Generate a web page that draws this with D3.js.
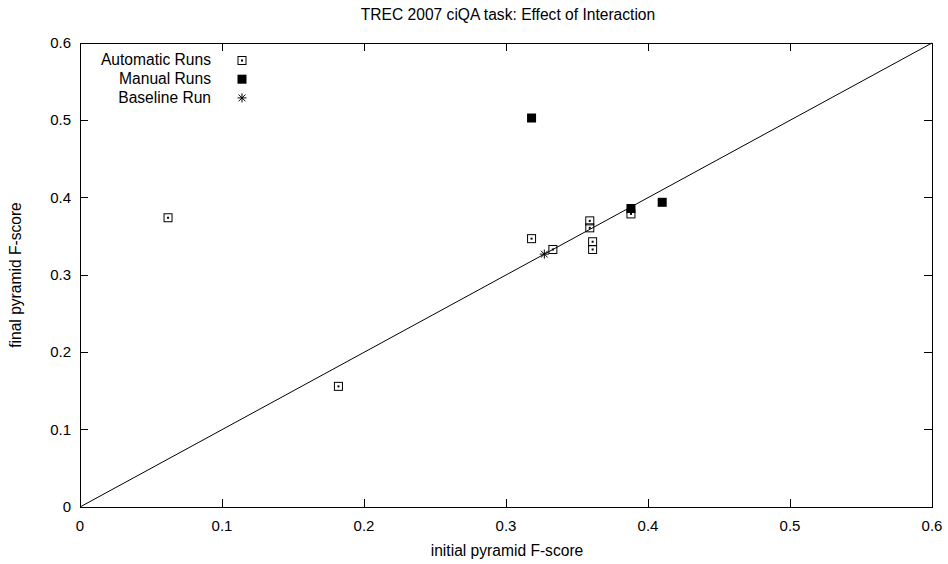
<!DOCTYPE html>
<html><head><meta charset="utf-8">
<script src="https://cdn.jsdelivr.net/npm/d3@7"></script>
<style>body{margin:0;background:#fff}text{font-family:"Liberation Sans",Arial,sans-serif;fill:#000}</style>
</head><body><svg id="c" width="948" height="564"></svg>
<script>
const ticks = [0, 0.1, 0.2, 0.3, 0.4, 0.5, 0.6];
const autoX = [0.062, 0.182, 0.318, 0.333, 0.359, 0.359, 0.361, 0.361, 0.388];
const autoY = [0.374, 0.156, 0.347, 0.333, 0.370, 0.361, 0.343, 0.333, 0.379];
const manualX = [0.318, 0.388, 0.410];
const manualY = [0.503, 0.386, 0.394];
const baseX = [0.327];
const baseY = [0.327];
const legendLabels = ["Automatic Runs", "Manual Runs", "Baseline Run"];

const svg = d3.select("#c");
const L = 80, R = 932, T = 43, B = 507;
const x = d3.scaleLinear().domain([0, 0.6]).range([L, R]);
const y = d3.scaleLinear().domain([0, 0.6]).range([B, T]);
const fmt = d => d === 0 ? "0" : d3.format(".1f")(d);
const FS = 15.6, TFS = 15;

// ticks inward on all sides
const TL = 8;
const g = svg.append("g").attr("stroke", "#000").attr("stroke-width", 1).attr("shape-rendering","crispEdges");
ticks.forEach(t => {
  g.append("line").attr("x1", x(t)).attr("x2", x(t)).attr("y1", B).attr("y2", B - TL);
  g.append("line").attr("x1", x(t)).attr("x2", x(t)).attr("y1", T).attr("y2", T + TL);
  g.append("line").attr("y1", y(t)).attr("y2", y(t)).attr("x1", L).attr("x2", L + TL);
  g.append("line").attr("y1", y(t)).attr("y2", y(t)).attr("x1", R).attr("x2", R - TL);
});
svg.append("rect").attr("x", L).attr("y", T).attr("width", R - L).attr("height", B - T)
  .attr("fill", "none").attr("stroke", "#000").attr("stroke-width", 1).attr("shape-rendering","crispEdges");

ticks.forEach(t => {
  svg.append("text").attr("x", x(t)).attr("y", B + 24).attr("text-anchor", "middle")
    .attr("font-size", TFS).text(fmt(t));
  svg.append("text").attr("x", L - 9).attr("y", y(t) + 5).attr("text-anchor", "end")
    .attr("font-size", TFS).text(fmt(t));
});

svg.append("text").attr("x", 508).attr("y", 20).attr("text-anchor", "middle")
  .attr("font-size", FS).text("TREC 2007 ciQA task: Effect of Interaction");
svg.append("text").attr("x", 507).attr("y", 556).attr("text-anchor", "middle")
  .attr("font-size", FS).text("initial pyramid F-score");
svg.append("text").attr("transform", `translate(21,${(T + B) / 2}) rotate(-90)`).attr("text-anchor", "middle")
  .attr("font-size", FS).text("final pyramid F-score");

// diagonal
svg.append("line").attr("x1", x(0)).attr("y1", y(0)).attr("x2", x(0.6)).attr("y2", y(0.6))
  .attr("stroke", "#000").attr("stroke-width", 1);

function openSq(sel, cx, cy) {
  sel.append("rect").attr("x", cx - 4).attr("y", cy - 4).attr("width", 8).attr("height", 8)
    .attr("fill", "none").attr("stroke", "#000").attr("stroke-width", 1);
  sel.append("rect").attr("x", cx - 1).attr("y", cy - 1).attr("width", 2).attr("height", 2).attr("fill", "#000");
}
function fillSq(sel, cx, cy) {
  sel.append("rect").attr("x", cx - 4.5).attr("y", cy - 4.5).attr("width", 9).attr("height", 9).attr("fill", "#000");
}
function star(sel, cx, cy) {
  const r = 4.5;
  const p = sel.append("g").attr("stroke", "#000").attr("stroke-width", 1);
  p.append("line").attr("x1", cx - r).attr("x2", cx + r).attr("y1", cy).attr("y2", cy);
  p.append("line").attr("x1", cx).attr("x2", cx).attr("y1", cy - r).attr("y2", cy + r);
  p.append("line").attr("x1", cx - r * .75).attr("x2", cx + r * .75).attr("y1", cy - r * .75).attr("y2", cy + r * .75);
  p.append("line").attr("x1", cx - r * .75).attr("x2", cx + r * .75).attr("y1", cy + r * .75).attr("y2", cy - r * .75);
}

const pts = svg.append("g");
autoX.forEach((v, i) => openSq(pts, x(v), y(autoY[i])));
manualX.forEach((v, i) => fillSq(pts, x(v), y(manualY[i])));
baseX.forEach((v, i) => star(pts, x(v), y(baseY[i])));

// legend
const lg = svg.append("g");
const markers = [openSq, fillSq, star];
legendLabels.forEach((lab, i) => {
  const ly = 60.5 + i * 18.7;
  lg.append("text").attr("x", 211).attr("y", ly + 4.8).attr("text-anchor", "end").attr("font-size", FS).text(lab);
  markers[i](lg, 242, ly);
});
</script></body></html>
